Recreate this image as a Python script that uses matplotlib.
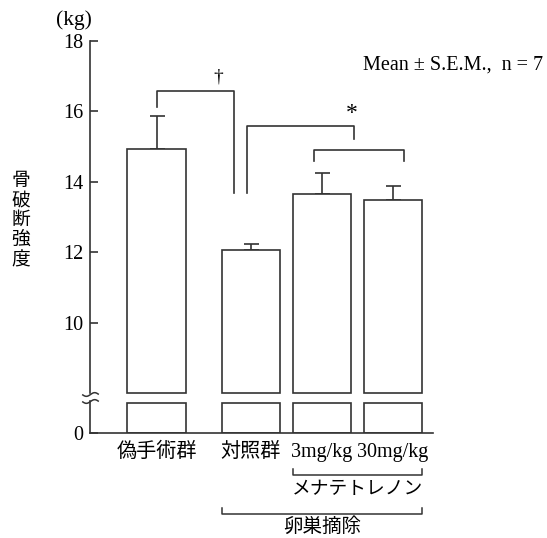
#!/usr/bin/env python3
"""Bone breaking strength bar chart with a broken y axis."""

import numpy as np
import matplotlib
matplotlib.use('Agg')
import matplotlib.pyplot as plt
from matplotlib.path import Path

plt.rcParams['font.family'] = ['Liberation Serif', 'Noto Sans CJK JP']

# data
groups = ['偽手術群', '対照群', '3mg/kg', '30mg/kg']
means = [14.92, 12.06, 13.66, 13.48]
sems = [0.95, 0.17, 0.58, 0.40]
yticks = [0, 10, 12, 14, 16, 18]

# layout
positions = np.array([0.0, 1.33, 2.33, 3.33])
width = 0.824
brk = 8.0          # axis is broken below this value
k = 0.1411         # compression of the region under the break
stub_top = 6.1
col = '#333333'

def fwd(v):
    v = np.asarray(v, dtype=float)
    return np.where(v >= brk, v, brk - (brk - v) * k)

def inv(v):
    v = np.asarray(v, dtype=float)
    return np.where(v >= brk, v, brk - (brk - v) / k)

fig = plt.figure(figsize=(5.47, 5.38), dpi=100)
ax = fig.add_axes([90/547, 105/538, 343/547, 392.3/538])
ax.set_yscale('function', functions=(fwd, inv))
ax.set_ylim(0, 18)
ax.set_xlim(-0.937, 3.894)

# bars: upper part above the break and a stub under it
ax.bar(positions, np.array(means) - brk, bottom=brk, width=width,
       facecolor='white', edgecolor=col, linewidth=1.2, zorder=2)
ax.bar(positions, stub_top, bottom=0, width=width,
       facecolor='white', edgecolor=col, linewidth=1.2, zorder=2)
ax.errorbar(positions, means, yerr=[np.zeros(len(sems)), sems], fmt='none',
            ecolor=col, elinewidth=1.2, capsize=5.4, capthick=1.2, zorder=1)

# axes styling
for s in ['top', 'right']:
    ax.spines[s].set_visible(False)
ax.spines['left'].set_bounds(brk, 18)
ax.spines['left'].set_color(col)
ax.spines['bottom'].set_color(col)
ax.spines['left'].set_linewidth(1.2)
ax.spines['bottom'].set_linewidth(1.2)
ax.plot([0, 0], [0, 6.5], color=col, lw=1.2, transform=ax.get_yaxis_transform(),
        clip_on=False)
ax.set_yticks(yticks)
ax.set_yticklabels([str(t) for t in yticks])
ax.yaxis.set_minor_locator(matplotlib.ticker.NullLocator())
ax.tick_params(axis='y', direction='in', length=6, width=1.2, color=col,
               labelsize=14.5, pad=5)
ax.set_xticks(positions)
ax.set_xticklabels(groups)
ax.tick_params(axis='x', length=0, labelsize=14.5, pad=7)

# break marks on the axis
t = np.linspace(-1, 1, 40)
tilde = Path(np.column_stack([t, 0.22 * np.sin(np.pi * t)]))
for yv in [7.84, 6.49]:
    ax.plot([0], [yv], marker=tilde, markersize=12, markeredgewidth=1.1,
            markeredgecolor=col, fillstyle='none', linestyle='none',
            transform=ax.get_yaxis_transform(), clip_on=False)

# significance brackets
ax.plot([0, 0, 1.09, 1.09], [16.12, 16.58, 16.58, 13.69], color=col, lw=1.2)
ax.text(0.866, 16.98, '†', ha='center', va='center', fontsize=14)
ax.plot([1.27, 1.27, 2.78, 2.78], [13.69, 15.59, 15.59, 15.21], color=col, lw=1.2)
ax.text(2.75, 15.93, '*', ha='center', va='center', fontsize=17)
ax.plot([2.22, 2.22, 3.48, 3.48], [14.6, 14.9, 14.9, 14.6], color=col, lw=1.2)

# group brackets under the axis
tr = ax.get_xaxis_transform()
x1, x2 = positions[2] - width/2, positions[3] + width/2
ax.plot([x1, x1, x2, x2], [-0.0918, -0.107, -0.107, -0.0918], color=col, lw=1.1,
        transform=tr, clip_on=False)
ax.text((x1 + x2) / 2, -0.145, 'メナテトレノン', ha='center', va='center',
        fontsize=13.5, transform=tr)
x0 = positions[1] - width/2
ax.plot([x0, x0, x2, x2], [-0.191, -0.2065, -0.2065, -0.191], color=col, lw=1.1,
        transform=tr, clip_on=False)
ax.text((x0 + x2) / 2, -0.239, '卵巣摘除', ha='center', va='center',
        fontsize=14, transform=tr)

# other texts
fig.text(74/547, 1 - 20/538, '(kg)', ha='center', va='center', fontsize=15.5)
fig.text(543/547, 1 - 65/538, 'Mean ± S.E.M.,  n = 7', ha='right', va='center',
         fontsize=14.5)
fig.text(21/547, 1 - 221/538, '\n'.join('骨破断強度'), ha='center', va='center',
         fontsize=13.5, linespacing=1.2)

fig.savefig('out.png', dpi=100)
